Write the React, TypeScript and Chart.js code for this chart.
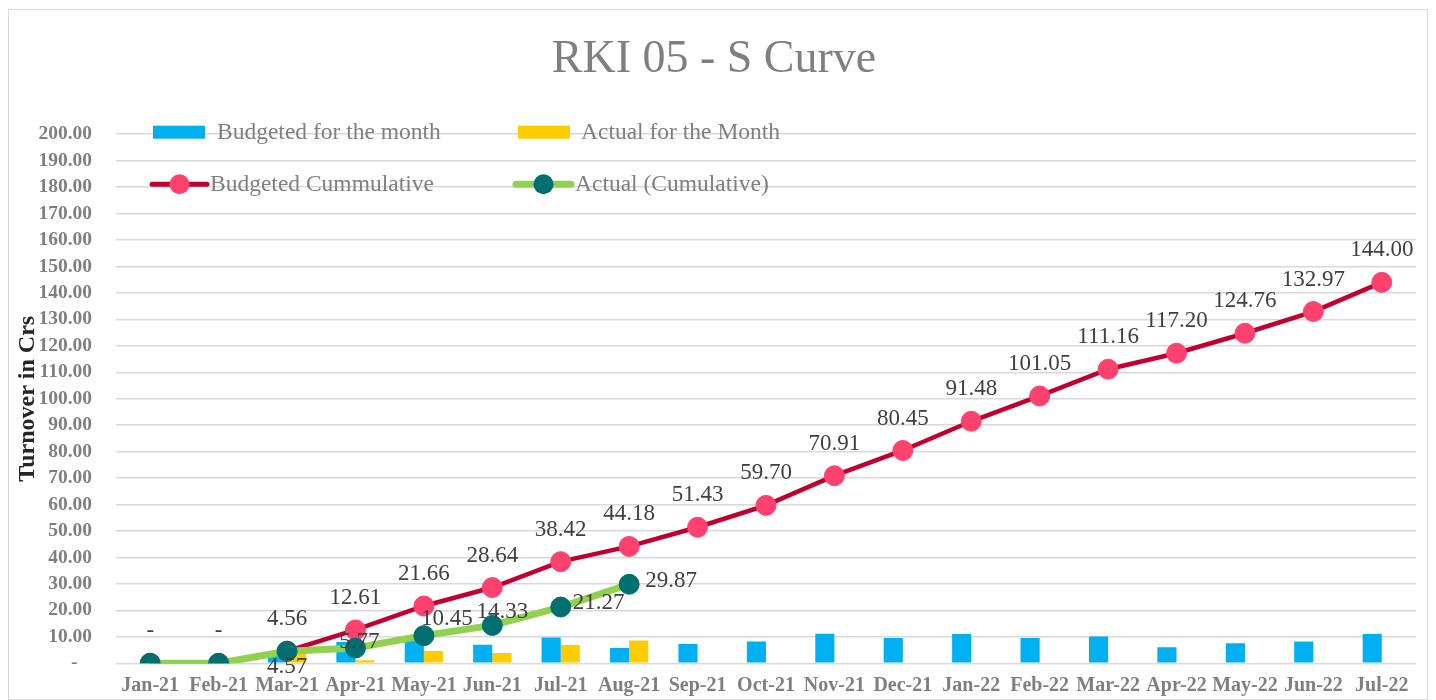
import React, { useEffect, useRef } from 'react';
import { Chart, registerables } from 'chart.js';

Chart.register(...registerables);

const months = [
  'Jan-21', 'Feb-21', 'Mar-21', 'Apr-21', 'May-21', 'Jun-21', 'Jul-21', 'Aug-21', 'Sep-21', 'Oct-21',
  'Nov-21', 'Dec-21', 'Jan-22', 'Feb-22', 'Mar-22', 'Apr-22', 'May-22', 'Jun-22', 'Jul-22',
];
const budgetMonthly = [0, 0, 4.56, 8.05, 9.05, 6.98, 9.78, 5.76, 7.25, 8.27, 11.21, 9.54, 11.03, 9.57, 10.11, 6.04, 7.56, 8.21, 11.03];
const actualMonthly = [0, 0, 4.57, 1.2, 4.68, 3.88, 6.94, 8.6, null, null, null, null, null, null, null, null, null, null, null];
const budgetCumulative = [0, 0, 4.56, 12.61, 21.66, 28.64, 38.42, 44.18, 51.43, 59.7, 70.91, 80.45, 91.48, 101.05, 111.16, 117.2, 124.76, 132.97, 144.0];
const actualCumulative = [0, 0, 4.57, 5.77, 10.45, 14.33, 21.27, 29.87, null, null, null, null, null, null, null, null, null, null, null];

const yMin = 0;
const yMax = 200;
const yStep = 10;

const titleText = 'RKI 05 - S Curve';
const yAxisTitle = 'Turnover in Crs';
const legendLabels = ['Budgeted for the month', 'Actual for the Month', 'Budgeted Cummulative', 'Actual (Cumulative)'];

// label placement for the actual cumulative series (dx, dy from point), null = no label
const actualLabelShift: ([number, number] | null)[] = [
  null, null, [0, 16], [4, -6], [23, -17], [10, -13], [38, -4], [42, -3],
  null, null, null, null, null, null, null, null, null, null, null,
];

const FONT = '"Liberation Serif", "Times New Roman", serif';
const BLUE = '#00B0F0';
const YELLOW = '#FFCC00';
const RED_LINE = '#C0002F';
const RED_POINT = '#FF416F';
const GREEN_LINE = '#92D050';
const TEAL_POINT = '#006F70';
const GRAY_TEXT = '#7f7f7f';
const DARK_TEXT = '#404040';

const fmt = (v: number) => (v === 0 ? '-' : v.toFixed(2));

const labelPlugin = {
  id: 'pointLabels',
  afterDatasetsDraw(chart: any) {
    const ctx = chart.ctx;
    ctx.save();
    ctx.font = `23px ${FONT}`;
    ctx.fillStyle = DARK_TEXT;
    ctx.textAlign = 'center';
    ctx.textBaseline = 'middle';
    const bMeta = chart.getDatasetMeta(2);
    bMeta.data.forEach((pt: any, i: number) => {
      const v = budgetCumulative[i];
      if (v == null) return;
      ctx.fillText(fmt(v), pt.x, pt.y - 32);
    });
    const aMeta = chart.getDatasetMeta(3);
    aMeta.data.forEach((pt: any, i: number) => {
      const v = actualCumulative[i];
      const s = actualLabelShift[i];
      if (v == null || !s) return;
      ctx.fillText(fmt(v), pt.x + s[0], pt.y + s[1]);
    });
    ctx.restore();
  },
};

const legendPlugin = {
  id: 'insideLegend',
  beforeDatasetsDraw(chart: any) {
    const ctx = chart.ctx;
    const { left, top } = chart.chartArea;
    ctx.save();
    ctx.font = `23.5px ${FONT}`;
    ctx.textAlign = 'left';
    ctx.textBaseline = 'middle';
    const row1 = top - 2;
    const row2 = top + 50;
    ctx.fillStyle = BLUE;
    ctx.fillRect(left + 37, row1 - 6.5, 52, 13);
    ctx.fillStyle = YELLOW;
    ctx.fillRect(left + 402, row1 - 6.5, 52, 13);
    ctx.fillStyle = GRAY_TEXT;
    ctx.fillText(legendLabels[0], left + 101, row1 + 1);
    ctx.fillText(legendLabels[1], left + 465, row1 + 1);
    const lineItem = (x: number, lineColor: string, lw: number, pointColor: string) => {
      ctx.strokeStyle = lineColor;
      ctx.lineWidth = lw;
      ctx.lineCap = 'round';
      ctx.beginPath();
      ctx.moveTo(x, row2);
      ctx.lineTo(x + 55, row2);
      ctx.stroke();
      ctx.fillStyle = pointColor;
      ctx.beginPath();
      ctx.arc(x + 27.5, row2, 10, 0, Math.PI * 2);
      ctx.fill();
    };
    lineItem(left + 36, RED_LINE, 5, RED_POINT);
    lineItem(left + 400, GREEN_LINE, 7, TEAL_POINT);
    ctx.fillStyle = GRAY_TEXT;
    ctx.fillText(legendLabels[2], left + 94, row2 + 1);
    ctx.fillText(legendLabels[3], left + 459, row2 + 1);
    ctx.restore();
  },
};

export default function App() {
  const ref = useRef<HTMLCanvasElement | null>(null);

  useEffect(() => {
    if (!ref.current) return;
    const chart = new Chart(ref.current, {
      type: 'bar',
      data: {
        labels: months,
        datasets: [
          {
            type: 'bar',
            label: legendLabels[0],
            data: budgetMonthly,
            backgroundColor: BLUE,
            categoryPercentage: 0.56,
            barPercentage: 1.0,
            order: 3,
          },
          {
            type: 'bar',
            label: legendLabels[1],
            data: actualMonthly as any,
            backgroundColor: YELLOW,
            categoryPercentage: 0.56,
            barPercentage: 1.0,
            order: 3,
          },
          {
            type: 'line',
            label: legendLabels[2],
            data: budgetCumulative,
            borderColor: RED_LINE,
            borderWidth: 4.5,
            backgroundColor: RED_POINT,
            pointBackgroundColor: RED_POINT,
            pointBorderColor: RED_POINT,
            pointBorderWidth: 1,
            pointRadius: 10,
            tension: 0,
            order: 2,
          },
          {
            type: 'line',
            label: legendLabels[3],
            data: actualCumulative as any,
            borderColor: GREEN_LINE,
            borderWidth: 7,
            backgroundColor: TEAL_POINT,
            pointBackgroundColor: TEAL_POINT,
            pointBorderColor: TEAL_POINT,
            pointBorderWidth: 1,
            pointRadius: 10,
            tension: 0,
            spanGaps: false,
            order: 1,
          },
        ],
      },
      options: {
        responsive: false,
        animation: false,
        layout: { padding: { left: 0, right: 8, top: 0, bottom: 0 } },
        plugins: {
          legend: { display: false },
          tooltip: { enabled: false },
          title: {
            display: true,
            text: titleText,
            color: GRAY_TEXT,
            font: { family: FONT, size: 46, weight: 'normal' as any },
            padding: { top: 22, bottom: 47 },
          },
        },
        scales: {
          x: {
            grid: { display: false, drawTicks: false },
            border: { display: false },
            ticks: {
              color: GRAY_TEXT,
              font: { family: FONT, size: 20, weight: 'bold' as any },
              padding: 11,
              maxRotation: 0,
              autoSkip: false,
            },
            afterFit: (s: any) => {
              s.height = 35;
            },
          },
          y: {
            min: yMin,
            max: yMax,
            grid: { color: '#d9d9d9', lineWidth: 1.5, drawTicks: false },
            border: { display: false },
            ticks: {
              stepSize: yStep,
              color: GRAY_TEXT,
              font: { family: FONT, size: 19.5, weight: 'bold' as any },
              padding: 24,
              callback: (v: any) => (Number(v) === 0 ? '-   ' : fmt(Number(v))),
            },
            title: {
              display: true,
              text: yAxisTitle,
              color: '#262626',
              font: { family: FONT, size: 24, weight: 'bold' as any },
              padding: { top: 4, bottom: 0 },
            },
            afterFit: (s: any) => {
              s.width = 107;
            },
          },
        },
      },
      plugins: [legendPlugin, labelPlugin],
    });
    return () => chart.destroy();
  }, []);

  return (
    <div
      style={{
        position: 'absolute',
        left: 8,
        top: 9,
        width: 1420,
        height: 691,
        border: '1px solid #d9d9d9',
        boxSizing: 'border-box',
        background: '#fff',
      }}
    >
      <canvas ref={ref} width={1418} height={689} style={{ display: 'block' }} />
    </div>
  );
}
